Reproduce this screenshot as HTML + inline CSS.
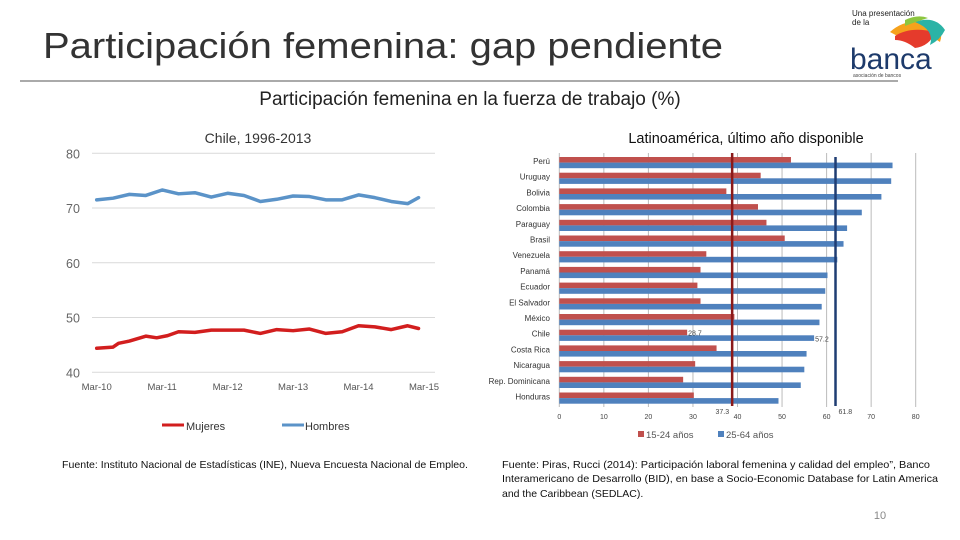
<!DOCTYPE html>
<html><head><meta charset="utf-8"><style>
html,body{margin:0;padding:0;background:#fff;width:960px;height:540px;overflow:hidden;font-family:"Liberation Sans",sans-serif}
svg text{font-family:"Liberation Sans",sans-serif}
</style></head><body>
<svg id="s" width="960" height="540" viewBox="0 0 960 540" xmlns="http://www.w3.org/2000/svg">
<text x="43" y="58" font-size="36" fill="#333" textLength="680" lengthAdjust="spacingAndGlyphs">Participación femenina: gap pendiente</text>
<line x1="20" y1="81" x2="898" y2="81" stroke="#555" stroke-width="1"/>
<g>
<text x="852" y="16" font-size="8" fill="#222">Una presentación</text>
<text x="852" y="25" font-size="8" fill="#222">de la</text>
<path d="M890 32 Q905 18 930 22 Q945 28 940 42 Q925 30 905 40 Z" fill="#f6a21c"/>
<path d="M895 36 Q910 26 935 32 Q930 46 915 48 Q905 40 895 40 Z" fill="#e53b2c"/>
<path d="M915 22 Q935 15 945 30 Q940 40 930 45 Q935 30 915 22 Z" fill="#2bb3a6"/>
<path d="M905 20 Q918 14 928 18 Q915 22 905 26 Z" fill="#8cc63f"/>
<text x="850" y="69" font-size="30" fill="#1d3a6b">banca</text>
<text x="853" y="77" font-size="5" fill="#444">asociación de bancos</text>
</g>
<text x="470" y="105" font-size="19" fill="#222" text-anchor="middle">Participación femenina en la fuerza de trabajo (%)</text>
<text x="258" y="143" font-size="14" fill="#333" text-anchor="middle">Chile, 1996-2013</text>
<text x="746" y="143" font-size="14.5" fill="#111" text-anchor="middle">Latinoamérica, último año disponible</text>
<g id="left"></g>
<g id="right"></g>
<g>
<line x1="162" y1="425" x2="184" y2="425" stroke="#d21e1e" stroke-width="3"/>
<text x="186" y="430" font-size="11" fill="#333">Mujeres</text>
<line x1="282" y1="425" x2="304" y2="425" stroke="#5b93c8" stroke-width="3"/>
<text x="305" y="430" font-size="11" fill="#333">Hombres</text>
</g>
<text x="62" y="468" font-size="10.5" fill="#111" textLength="406" lengthAdjust="spacingAndGlyphs">Fuente: Instituto Nacional de Estadísticas (INE), Nueva Encuesta Nacional de Empleo.</text>
<g font-size="10.5" fill="#111">
<text x="502" y="468" textLength="428" lengthAdjust="spacingAndGlyphs">Fuente: Piras, Rucci (2014): Participación laboral femenina y calidad del empleo”, Banco</text>
<text x="502" y="482" textLength="436" lengthAdjust="spacingAndGlyphs">Interamericano de Desarrollo (BID), en base a Socio-Economic Database for Latin America</text>
<text x="502" y="497">and the Caribbean (SEDLAC).</text>
</g>
<text x="880" y="519" font-size="11" fill="#888" text-anchor="middle">10</text>
</svg>
<script>
// Left chart data (month index from Mar-10)
const monthIdx = [0,3,4,6,9,11,13,15,18,21,24,27,30,33,36,39,42,45,48,51,54,57,59];
const mujeres = [44.4,44.6,45.3,45.7,46.6,46.3,46.7,47.4,47.3,47.7,47.7,47.7,47.1,47.8,47.6,47.9,47.1,47.4,48.5,48.3,47.8,48.5,48.0];
const hMonthIdx = [0,3,6,9,12,15,18,21,24,27,30,33,36,39,42,45,48,51,54,57,59];
const hombres = [71.5,71.8,72.5,72.3,73.3,72.6,72.8,72.0,72.7,72.3,71.2,71.6,72.2,72.1,71.5,71.5,72.4,71.9,71.2,70.8,71.9];
const yTicks = [40,50,60,70,80];
const xTickLabels = ['Mar-10','Mar-11','Mar-12','Mar-13','Mar-14','Mar-15'];
// Right chart data
const countries = ['Perú','Uruguay','Bolivia','Colombia','Paraguay','Brasil','Venezuela','Panamá','Ecuador','El Salvador','México','Chile','Costa Rica','Nicaragua','Rep. Dominicana','Honduras'];
const joven = [52,45.2,37.5,44.6,46.5,50.6,33,31.7,31,31.7,39.3,28.7,35.3,30.5,27.8,30.2];
const adulto = [74.8,74.5,72.3,67.9,64.6,63.8,62.4,60.2,59.7,58.9,58.4,57.2,55.5,55,54.2,49.2];
const avgJoven = 38.8, avgAdulto = 62.0;
const xTicksR = [0,10,20,30,40,50,60,70,80];

const NS='http://www.w3.org/2000/svg';
function mk(p,t,a){const e=document.createElementNS(NS,t);for(const k in a)e.setAttribute(k,a[k]);p.appendChild(e);return e;}
const L=document.getElementById('left');
const lx=m=>96.7+m*(424-96.7)/60;
const ly=v=>372.3-(v-40)*(372.3-153.3)/40;
yTicks.forEach(t=>{
 const g=mk(L,'line',{x1:92,x2:435,y1:ly(t),y2:ly(t),stroke:'#d9d9d9','stroke-width':1});
 
 
 const tx=mk(L,'text',{x:66,y:ly(t)+5,'font-size':12.5,fill:'#666'});tx.textContent=t;
 
 
});
xTickLabels.forEach((l,i)=>{
 const tx=mk(L,'text',{x:lx(i*12),y:390,'font-size':9.5,fill:'#555','text-anchor':'middle'});tx.textContent=l;
 
 
});
const ph=mk(L,'polyline',{points:hombres.map((v,i)=>lx(hMonthIdx[i])+','+ly(v)).join(' '),fill:'none',stroke:'#5b93c8','stroke-width':3.5,'stroke-linejoin':'round','stroke-linecap':'round'});


const pm=mk(L,'polyline',{points:mujeres.map((v,i)=>lx(monthIdx[i])+','+ly(v)).join(' '),fill:'none',stroke:'#d21e1e','stroke-width':3.5,'stroke-linejoin':'round','stroke-linecap':'round'});


// right chart
const R=document.getElementById('right');
const rx=v=>559.3+v*(915.7-559.3)/80;
const rowTop=i=>157+i*15.7;
xTicksR.forEach(t=>{
 const g=mk(R,'line',{x1:rx(t),x2:rx(t),y1:153,y2:407,stroke:'#bbb','stroke-width':1});
 
 
 const tx=mk(R,'text',{x:rx(t),y:419,'font-size':7,fill:'#444','text-anchor':'middle'});tx.textContent=t;
 
 
});
countries.forEach((c,i)=>{
 const y=rowTop(i);
 const b1=mk(R,'rect',{x:rx(0),y:y,width:rx(joven[i])-rx(0),height:5.6,fill:'#c0504d'});
 
 
 const b2=mk(R,'rect',{x:rx(0),y:y+5.6,width:rx(adulto[i])-rx(0),height:5.6,fill:'#4f81bd'});
 
 
 const tx=mk(R,'text',{x:550,y:y+7,'font-size':8,fill:'#333','text-anchor':'end'});tx.textContent=c;
 
 
});
const ci=countries.indexOf('Chile');
let t1=mk(R,'text',{x:rx(joven[ci])+1,y:rowTop(ci)+6,'font-size':7,fill:'#444'});t1.textContent=joven[ci];


let t2=mk(R,'text',{x:rx(adulto[ci])+1,y:rowTop(ci)+12,'font-size':7,fill:'#444'});t2.textContent=adulto[ci];


const a1=mk(R,'line',{x1:rx(avgJoven),x2:rx(avgJoven),y1:153,y2:406,stroke:'#8b1a1a','stroke-width':2.5});


const a2=mk(R,'line',{x1:rx(avgAdulto),x2:rx(avgAdulto),y1:157,y2:406,stroke:'#1f3d73','stroke-width':2.5});


let t3=mk(R,'text',{x:rx(avgJoven)-3,y:414,'font-size':7,fill:'#444','text-anchor':'end'});t3.textContent='37.3';


let t4=mk(R,'text',{x:rx(avgAdulto)+3,y:414,'font-size':7,fill:'#444'});t4.textContent='61.8';


const lg=mk(R,'g',{});


mk(lg,'rect',{x:638,y:431,width:6,height:6,fill:'#c0504d'});
let l1=mk(lg,'text',{x:646,y:438,'font-size':9.5,fill:'#555'});l1.textContent='15-24 años';
mk(lg,'rect',{x:718,y:431,width:6,height:6,fill:'#4f81bd'});
let l2=mk(lg,'text',{x:726,y:438,'font-size':9.5,fill:'#555'});l2.textContent='25-64 años';
</script>
</body></html>
